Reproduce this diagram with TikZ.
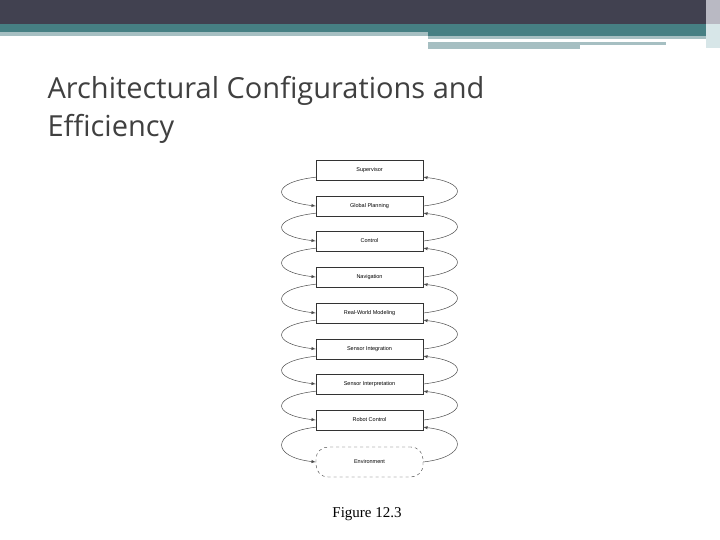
\documentclass[tikz,border=0pt]{standalone}
\usepackage{fontspec}
\usetikzlibrary{calc}
\setmainfont{Liberation Sans}
\newfontfamily\titlefont{Open Sans}
\newfontfamily\capfont{Liberation Serif}
\begin{document}
\begin{tikzpicture}[x=1pt,y=-1pt,
  blk/.style={draw=black!80,fill=white,minimum width=107pt,minimum height=20pt,inner sep=0pt,font=\fontsize{5.5}{6}\selectfont},
  env/.style={blk,rounded corners=12pt,dashed,minimum height=30pt},
  arr/.style={->,>=latex,black!70,line width=0.5pt}]
\useasboundingbox (0,0) rectangle (720,540);
\fill[white] (0,0) rectangle (720,540);
\fill[fill={rgb,255:red,65;green,65;blue,80}] (0,0) rectangle (720,24);
\fill[fill={rgb,255:red,70;green,127;blue,131}] (0,24) rectangle (720,32);
\fill[fill={rgb,255:red,166;green,191;blue,194}] (0,32) rectangle (428,36);
\fill[fill={rgb,255:red,70;green,127;blue,131}] (428,32) rectangle (710,36);
\fill[fill={rgb,255:red,166;green,191;blue,194}] (428,36) rectangle (710,39);
\fill[fill={rgb,255:red,166;green,191;blue,194}] (428,42) rectangle (666,45);
\fill[fill={rgb,255:red,166;green,191;blue,194}] (428,45) rectangle (580,49);
\fill[fill={rgb,255:red,185;green,185;blue,195}] (706,0) rectangle (720,24);
\fill[fill={rgb,255:red,215;green,230;blue,232}] (706,24) rectangle (720,48);
\node[anchor=west,text=black!75,font=\titlefont\fontsize{29}{38}\selectfont,align=left] (title) at (44,110) {Architectural Configurations and\\Efficiency};
\foreach \n/\t/\y in {a/Supervisor/170,b/Global Planning/206,c/Control/241,d/Navigation/277,e/Real-World Modeling/313,f/Sensor Integration/349,g/Sensor Interpretation/384,h/Robot Control/420}
  \node[blk] (\n) at (369.5,\y) {\t};
\node[env] (i) at (369.5,462) {Environment};
\foreach \u/\l in {a/b,b/c,c/d,d/e,e/f,f/g,g/h,h/i}{
  \draw[arr] ($(\u.south west)+(0,-3)$) .. controls +(-45,5) and +(-45,-5) .. (\l.west);
  \draw[arr] (\l.east) .. controls +(45,-5) and +(45,5) .. ($(\u.south east)+(0,-3)$);
}
\node[font=\capfont\fontsize{15}{18}\selectfont] (cap) at (367,514) {Figure 12.3};
\end{tikzpicture}
\end{document}
